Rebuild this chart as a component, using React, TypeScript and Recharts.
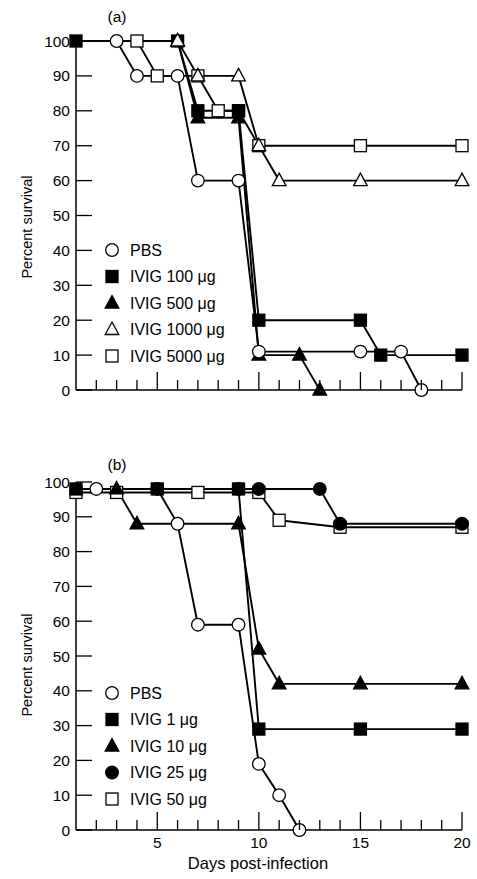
import React from 'react';
import { LineChart, Line, XAxis, YAxis, Legend } from 'recharts';

// panel (a)
const A_PBS_DAYS = [3, 4, 6, 7, 9, 10, 15, 17, 18];
const A_PBS = [100, 90, 90, 60, 60, 11, 11, 11, 0];
const A_100_DAYS = [1, 6, 7, 9, 10, 15, 16, 20];
const A_100 = [100, 100, 80, 80, 20, 20, 10, 10];
const A_500_DAYS = [6, 7, 9, 10, 12, 13];
const A_500 = [100, 78, 78, 10, 10, 0];
const A_1000_DAYS = [6, 7, 9, 10, 11, 15, 20];
const A_1000 = [100, 90, 90, 70, 60, 60, 60];
const A_5000_DAYS = [4, 5, 7, 8, 9, 10, 15, 20];
const A_5000 = [100, 90, 90, 80, 80, 70, 70, 70];

// panel (b)
const B_PBS_DAYS = [2, 5, 6, 7, 9, 10, 11, 12];
const B_PBS = [98, 98, 88, 59, 59, 19, 10, 0];
const B_1_DAYS = [1, 5, 9, 10, 15, 20];
const B_1 = [98, 98, 98, 29, 29, 29];
const B_10_DAYS = [3, 4, 9, 10, 11, 15, 20];
const B_10 = [98, 88, 88, 52, 42, 42, 42];
const B_25_DAYS = [9, 10, 13, 14, 20];
const B_25 = [98, 98, 98, 88, 88];
const B_50_DAYS = [1, 3, 7, 10, 11, 14, 20];
const B_50 = [97, 97, 97, 97, 89, 87, 87];

const X_TICKS = [2, 3, 4, 5, 6, 7, 8, 9, 10, 11, 12, 13, 14, 15, 16, 17, 18, 19, 20];
const Y_TICKS = [0, 10, 20, 30, 40, 50, 60, 70, 80, 90, 100];

const LEGEND_A = ['PBS', 'IVIG 100 μg', 'IVIG 500 μg', 'IVIG 1000 μg', 'IVIG 5000 μg'];
const LEGEND_B = ['PBS', 'IVIG 1 μg', 'IVIG 10 μg', 'IVIG 25 μg', 'IVIG 50 μg'];

const FONT = 'Liberation Sans, Arial, sans-serif';

type Shape = 'circle' | 'square' | 'triangle';

const toPoints = (days: number[], vals: number[]) => days.map((d, i) => ({ day: d, value: vals[i] }));

function Marker({ cx, cy, shape, filled }: { cx: number; cy: number; shape: Shape; filled: boolean }) {
  const fill = filled ? '#000' : '#fff';
  if (shape === 'circle') return <circle cx={cx} cy={cy} r={6.3} fill={fill} stroke="#000" strokeWidth={1.3} />;
  if (shape === 'square') return <rect x={cx - 6} y={cy - 6} width={12} height={12} fill={fill} stroke="#000" strokeWidth={1.3} />;
  return (
    <path
      d={`M${cx},${cy - 7.5} L${cx + 6.8},${cy + 5} L${cx - 6.8},${cy + 5} Z`}
      fill={fill}
      stroke="#000"
      strokeWidth={1.3}
      strokeLinejoin="miter"
    />
  );
}

const makeDot = (shape: Shape, filled: boolean) => (props: any) => (
  <Marker key={`d-${props.index}`} cx={props.cx} cy={props.cy} shape={shape} filled={filled} />
);

const XTick = (showLabel: boolean) => (props: any) => {
  const { x, y, payload } = props;
  const major = payload.value % 5 === 0;
  return (
    <g>
      <line x1={x} x2={x} y1={y} y2={y - (major ? 18 : 10)} stroke="#000" strokeWidth={1.3} />
      {showLabel && major && (
        <text x={x} y={y + 18} textAnchor="middle" fontSize={15.5} fontFamily={FONT} fill="#000">
          {payload.value}
        </text>
      )}
    </g>
  );
};

const YTick = (props: any) => {
  const { x, y, payload } = props;
  return (
    <g>
      <line x1={x} x2={x + 16} y1={y} y2={y} stroke="#000" strokeWidth={1.3} />
      <text x={x - 6} y={y + 5.5} textAnchor="end" fontSize={15.5} fontFamily={FONT} fill="#000">
        {payload.value}
      </text>
    </g>
  );
};

const LegendBox = (labels: string[], shapes: [Shape, boolean][]) => () => (
  <svg width={170} height={135} style={{ display: 'block' }}>
    {labels.map((lab, i) => (
      <g key={lab}>
        <Marker cx={12} cy={10 + i * 26.5} shape={shapes[i][0]} filled={shapes[i][1]} />
        <text x={30} y={10 + i * 26.5 + 5.5} fontSize={16} fontFamily={FONT} fill="#000">
          {lab}
        </text>
      </g>
    ))}
  </svg>
);

const SHAPES_A: [Shape, boolean][] = [
  ['circle', false],
  ['square', true],
  ['triangle', true],
  ['triangle', false],
  ['square', false],
];
const SHAPES_B: [Shape, boolean][] = [
  ['circle', false],
  ['square', true],
  ['triangle', true],
  ['circle', true],
  ['square', false],
];

const yTitle = (cy: number) => () => (
  <text
    x={27}
    y={cy}
    transform={`rotate(-90, 27, ${cy})`}
    textAnchor="middle"
    dominantBaseline="central"
    fontSize={14.5}
    fontFamily={FONT}
    fill="#000"
  >
    Percent survival
  </text>
);

function Panel({
  top,
  series,
  legend,
  shapes,
  showX,
  tag,
}: {
  top: number;
  series: { name: string; data: { day: number; value: number }[]; shape: Shape; filled: boolean }[];
  legend: string[];
  shapes: [Shape, boolean][];
  showX: boolean;
  tag: string;
}) {
  return (
    <div style={{ position: 'absolute', left: 0, top }}>
      <LineChart width={477} height={440} margin={{ top: top === 0 ? 41 : 42, right: 15, bottom: 20, left: 0 }}>
        <XAxis
          type="number"
          dataKey="day"
          domain={[1, 20]}
          ticks={X_TICKS}
          interval={0}
          height={30}
          tickSize={0}
          tickMargin={0}
          tickLine={false}
          tick={XTick(showX)}
          axisLine={{ stroke: '#000', strokeWidth: 1.5 }}
          allowDuplicatedCategory={false}
          label={
            showX
              ? (p: any) => (
                  <text x={258} y={429} textAnchor="middle" fontSize={16.5} fontFamily={FONT} fill="#000">
                    Days post-infection
                  </text>
                )
              : undefined
          }
        />
        <YAxis
          type="number"
          domain={[0, 100]}
          ticks={Y_TICKS}
          interval={0}
          width={76}
          tickSize={0}
          tickMargin={0}
          tickLine={false}
          tick={YTick}
          axisLine={{ stroke: '#000', strokeWidth: 1.5 }}
          label={yTitle(top === 0 ? 227 : 225)}
        />
        <Legend
          layout="vertical"
          align="center"
          verticalAlign="middle"
          content={LegendBox(legend, shapes)}
          wrapperStyle={{ left: 100, top: top === 0 ? 240 : 243, width: 170 }}
        />
        {series.map((s) => (
          <Line
            key={s.name}
            name={s.name}
            data={s.data}
            dataKey="value"
            type="linear"
            stroke="#000"
            strokeWidth={1.9}
            dot={makeDot(s.shape, s.filled)}
            activeDot={false}
            isAnimationActive={false}
            legendType="none"
          />
        ))}
        <text x={117} y={top === 0 ? 22 : 30} textAnchor="middle" fontSize={15.5} fontFamily={FONT} fill="#000">
          {tag}
        </text>
      </LineChart>
    </div>
  );
}

export default function App() {
  const seriesA = [
    { name: 'IVIG 5000 μg', data: toPoints(A_5000_DAYS, A_5000), shape: 'square' as Shape, filled: false },
    { name: 'IVIG 500 μg', data: toPoints(A_500_DAYS, A_500), shape: 'triangle' as Shape, filled: true },
    { name: 'IVIG 100 μg', data: toPoints(A_100_DAYS, A_100), shape: 'square' as Shape, filled: true },
    { name: 'PBS', data: toPoints(A_PBS_DAYS, A_PBS), shape: 'circle' as Shape, filled: false },
    { name: 'IVIG 1000 μg', data: toPoints(A_1000_DAYS, A_1000), shape: 'triangle' as Shape, filled: false },
  ];
  const seriesB = [
    { name: 'IVIG 50 μg', data: toPoints(B_50_DAYS, B_50), shape: 'square' as Shape, filled: false },
    { name: 'PBS', data: toPoints(B_PBS_DAYS, B_PBS), shape: 'circle' as Shape, filled: false },
    { name: 'IVIG 10 μg', data: toPoints(B_10_DAYS, B_10), shape: 'triangle' as Shape, filled: true },
    { name: 'IVIG 25 μg', data: toPoints(B_25_DAYS, B_25), shape: 'circle' as Shape, filled: true },
    { name: 'IVIG 1 μg', data: toPoints(B_1_DAYS, B_1), shape: 'square' as Shape, filled: true },
  ];
  return (
    <div style={{ position: 'absolute', left: 0, top: 0, width: 477, height: 879, background: '#fff' }}>
      <Panel top={0} series={seriesA} legend={LEGEND_A} shapes={SHAPES_A} showX={false} tag="(a)" />
      <Panel top={440} series={seriesB} legend={LEGEND_B} shapes={SHAPES_B} showX={true} tag="(b)" />
    </div>
  );
}
